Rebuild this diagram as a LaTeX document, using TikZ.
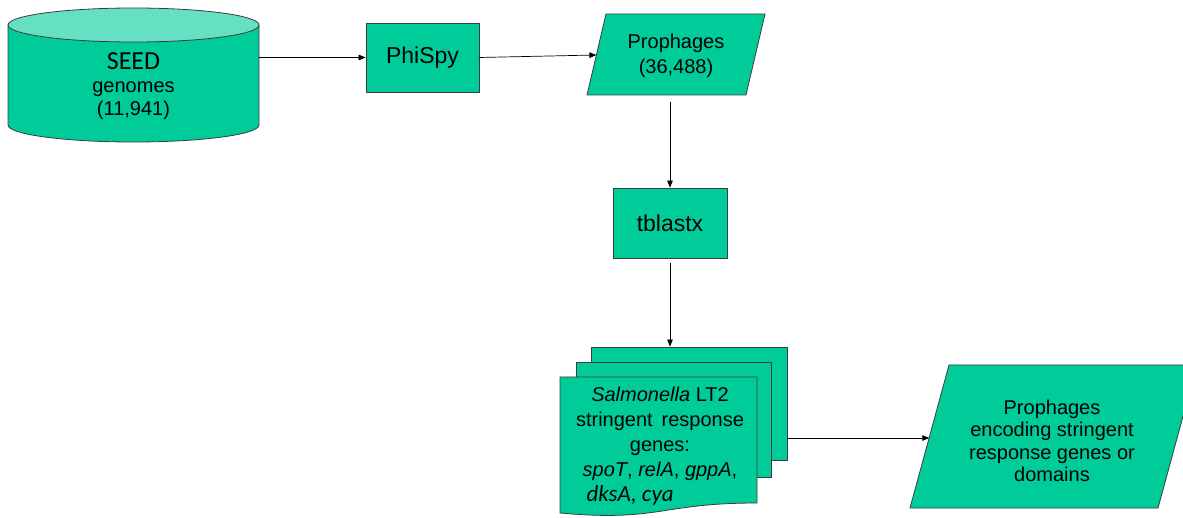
\documentclass[tikz,border=0pt]{standalone}
\usepackage{fontspec}
\setmainfont{Liberation Sans}
\newfontfamily\calib{Carlito}
\usetikzlibrary{arrows.meta}
\definecolor{tealA}{RGB}{0,204,153}
\definecolor{tealB}{RGB}{102,224,194}
\definecolor{edgec}{RGB}{60,60,60}
\begin{document}
\begin{tikzpicture}[x=1pt,y=-1pt,
  flow/.style={fill=tealA,draw=edgec,line width=0.8pt},
  box/.style={flow,rectangle,inner sep=0pt},
  lbl/.style={align=center,inner sep=0pt,font=\fontsize{20}{25}\selectfont},
  conn/.style={line width=0.7pt,-{Triangle[length=7pt,width=5.5pt]}}]
\useasboundingbox (0,0) rectangle (1183,518);

% cylinder
\path[flow] (8,25) -- (8,125) arc[start angle=180,end angle=360,x radius=125.5pt,y radius=17pt] -- (259,25);
\draw[draw=edgec,fill=tealB,line width=0.8pt] (133.5,25) ellipse[x radius=125.5pt,y radius=17pt];
\node[minimum width=251pt,minimum height=135pt,inner sep=0pt] (cyl) at (133.5,74.5) {};
\node[lbl,font=\fontsize{20}{23}\selectfont] (seedtxt) at (133.5,86) {{\calib\fontsize{26}{23}\selectfont SEED}\\genomes\\(11,941)};

% PhiSpy
\node[box,minimum width=113pt,minimum height=69pt,font=\fontsize{23}{27}\selectfont] (phispy) at (422.5,57.5) {PhiSpy};

% Prophages parallelogram
\filldraw[flow] (606,14) -- (765,14) -- (746,95) -- (587,95) -- cycle;
\node[lbl] (proph) at (676,56) {Prophages\\(36,488)};
\coordinate (pin) at (596.4,55);
\coordinate (pbot) at (670,95);

% tblastx
\node[box,minimum width=114pt,minimum height=70pt,font=\fontsize{23}{27}\selectfont] (tblastx) at (670,223) {tblastx};

% multi document
\node[box,minimum width=196pt,minimum height=113pt] (back) at (689,403.5) {};
\node[box,minimum width=195pt,minimum height=115pt] (mid) at (673.5,419.5) {};
\filldraw[flow] (560,377) -- (757,377) -- (757,503) .. controls (660,503) and (660,522) .. (560,513) -- cycle;
\node[lbl] (doctxt) at (660,446) {\textit{Salmonella} LT2\\stringent\ \,response\\genes:\\\textit{spoT}, \textit{relA}, \textit{gppA},\\\makebox[147pt][l]{\calib\itshape\fontsize{23}{25}\selectfont dksA, cya}};

% final parallelogram
\filldraw[flow] (949,365) -- (1197,365) -- (1158,508) -- (910,508) -- cycle;
\node[lbl,font=\fontsize{20}{22.5}\selectfont] (final) at (1052,441) {Prophages\\encoding stringent\\response genes or\\domains};
\coordinate (fin) at (929.3,438);

% connectors
\draw[conn] (cyl.east |- phispy) -- (phispy);
\draw[conn] (phispy.east) -- (pin);
\draw[conn,shorten <=7pt] (pbot) -- (tblastx.north);
\draw[conn,shorten <=5pt] (tblastx.south) -- (tblastx.south |- back.north);
\draw[conn] (back.east |- fin) -- (fin);
\end{tikzpicture}
\end{document}
